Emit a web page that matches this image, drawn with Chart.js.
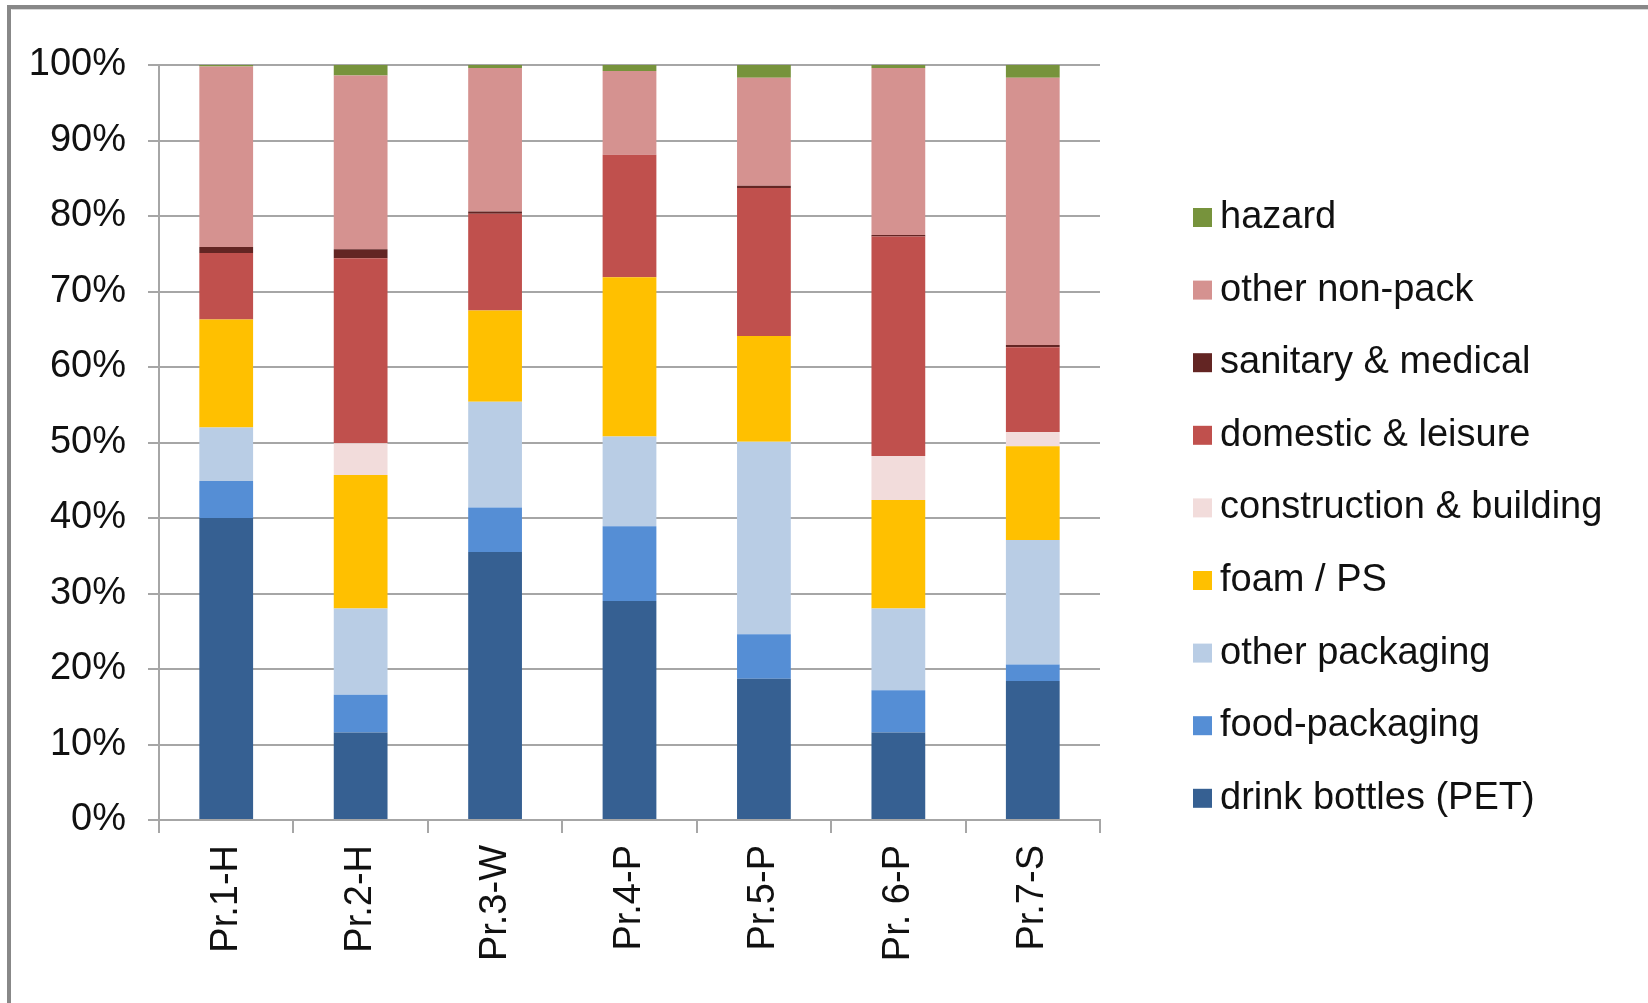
<!DOCTYPE html>
<html>
<head>
<meta charset="utf-8">
<script src="https://cdn.jsdelivr.net/npm/chart.js@4"></script>
<style>
  html, body { margin: 0; padding: 0; background: #fff; }
  #wrap { width: 1648px; height: 1003px; position: relative; }
</style>
</head>
<body>
<div id="wrap"><canvas id="c" width="1648" height="1003"></canvas></div>
<script>
// ---- data (percent of items per site) ----
const categories = ["Pr.1-H", "Pr.2-H", "Pr.3-W", "Pr.4-P", "Pr.5-P", "Pr. 6-P", "Pr.7-S"];
const drinkBottles   = [40.0, 11.6, 35.5, 29.0, 18.7, 11.6, 18.4];
const foodPackaging  = [4.9, 5.0, 5.9, 9.9, 5.9, 5.6, 2.2];
const otherPackaging = [7.1, 11.4, 14.0, 11.9, 25.5, 10.8, 16.5];
const foamPS         = [14.3, 17.7, 12.1, 21.1, 14.0, 14.4, 12.4];
const construction   = [0.0, 4.2, 0.0, 0.0, 0.0, 5.8, 1.9];
const domestic       = [8.8, 24.5, 12.8, 16.2, 19.6, 29.1, 11.2];
const sanitary       = [0.8, 1.2, 0.3, 0.0, 0.3, 0.2, 0.3];
const otherNonPack   = [23.9, 23.0, 19.0, 11.1, 14.3, 22.1, 35.4];
const hazard         = [0.2, 1.4, 0.4, 0.8, 1.7, 0.4, 1.7];
const yTicks = [0, 10, 20, 30, 40, 50, 60, 70, 80, 90, 100];

const seriesNames = ["drink bottles (PET)", "food-packaging", "other packaging", "foam / PS",
  "construction & building", "domestic & leisure", "sanitary & medical", "other non-pack", "hazard"];
const seriesValues = [drinkBottles, foodPackaging, otherPackaging, foamPS, construction,
  domestic, sanitary, otherNonPack, hazard];
const seriesColors = ["#366092", "#558ED5", "#B9CDE5", "#FFC000", "#F2DCDB",
  "#C0504D", "#632523", "#D59290", "#77933C"];

const FONT = "'Liberation Sans', Arial, sans-serif";
const GRID = "#a6a6a6";

const frameAndLegend = {
  id: "frameAndLegend",
  beforeDraw(chart) {
    const ctx = chart.ctx;
    ctx.save();
    ctx.fillStyle = "#ffffff";
    ctx.fillRect(0, 0, chart.width, chart.height);
    ctx.restore();
  },
  afterDraw(chart) {
    const ctx = chart.ctx;
    ctx.save();
    // outer frame (cropped on right/bottom)
    ctx.strokeStyle = "#888888";
    ctx.lineWidth = 4;
    ctx.beginPath();
    ctx.moveTo(9, chart.height + 10);
    ctx.lineTo(9, 7);
    ctx.lineTo(chart.width + 10, 7);
    ctx.stroke();
    ctx.strokeStyle = "#d8d8d8";
    ctx.lineWidth = 1;
    ctx.beginPath();
    ctx.moveTo(11.5, 9.5);
    ctx.lineTo(chart.width + 10, 9.5);
    ctx.stroke();
    // legend (reverse order)
    const ds = chart.data.datasets;
    ctx.font = "38px " + FONT;
    ctx.textBaseline = "middle";
    ctx.textAlign = "left";
    for (let k = 0; k < ds.length; k++) {
      const d = ds[ds.length - 1 - k];
      const cy = 217.5 + k * 72.6;
      ctx.fillStyle = d.backgroundColor;
      ctx.fillRect(1193, cy - 9.5, 19, 19);
      ctx.fillStyle = "#111111";
      ctx.fillText(d.label, 1220, cy);
    }
    ctx.restore();
  }
};

new Chart(document.getElementById("c"), {
  type: "bar",
  data: {
    labels: categories,
    datasets: seriesNames.map((n, i) => ({
      label: n,
      data: seriesValues[i],
      backgroundColor: seriesColors[i],
      borderWidth: 0,
      barPercentage: 0.4,
      categoryPercentage: 1.0
    }))
  },
  options: {
    responsive: false,
    devicePixelRatio: 1,
    animation: false,
    layout: { padding: { top: 65, right: 548, bottom: 0, left: 0 } },
    plugins: { legend: { display: false }, tooltip: { enabled: false } },
    scales: {
      x: {
        stacked: true,
        offset: true,
        grid: { drawOnChartArea: false, drawTicks: true, tickLength: 13, color: GRID, lineWidth: 2, offset: true },
        border: { color: GRID, width: 2 },
        ticks: {
          autoSkip: false, minRotation: 90, maxRotation: 90, padding: 12,
          color: "#111111", font: { family: FONT, size: 38 }
        },
        afterFit(scale) { scale.height = 183; }
      },
      y: {
        stacked: true,
        min: 0, max: 100,
        afterBuildTicks(scale) { scale.ticks = yTicks.map(v => ({ value: v })); },
        grid: { color: GRID, lineWidth: 2, tickLength: 11 },
        border: { color: GRID, width: 2 },
        ticks: {
          padding: 22, color: "#111111", font: { family: FONT, size: 38 },
          callback: v => v + "%"
        },
        afterFit(scale) { scale.width = 159; }
      }
    }
  },
  plugins: [frameAndLegend]
});
</script>
</body>
</html>
